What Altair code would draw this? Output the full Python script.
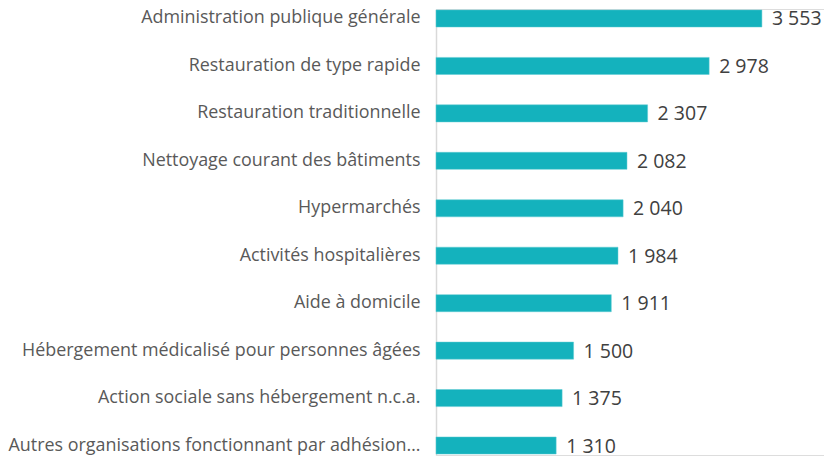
import altair as alt
import pandas as pd

categories = [
    "Administration publique générale",
    "Restauration de type rapide",
    "Restauration traditionnelle",
    "Nettoyage courant des bâtiments",
    "Hypermarchés",
    "Activités hospitalières",
    "Aide à domicile",
    "Hébergement médicalisé pour personnes âgées",
    "Action sociale sans hébergement n.c.a.",
    "Autres organisations fonctionnant par adhésion…",
]
values = [3553, 2978, 2307, 2082, 2040, 1984, 1911, 1500, 1375, 1310]

df = pd.DataFrame({
    "cat": categories,
    "val": values,
    "lbl": [f"{v:,}".replace(",", "\u00a0") for v in values],
})

FONT = "Open Sans"

y = alt.Y(
    "cat:N",
    sort=categories,
    title=None,
    scale=alt.Scale(paddingInner=0.64, paddingOuter=0.02),
    axis=alt.Axis(
        ticks=False,
        domainColor="#D9D9D9",
        domainWidth=1.5,
        labelFont=FONT,
        labelFontSize=17.9,
        labelColor="#595959",
        labelPadding=16,
        labelLimit=500,
    ),
)
x = alt.X("val:Q", axis=None, scale=alt.Scale(domain=[0, 4230], nice=False))

bars = alt.Chart(df).mark_bar(color="#14B2BD", stroke="#5FCAD2", strokeWidth=0.5).encode(x=x, y=y)
text = alt.Chart(df).mark_text(
    align="left", baseline="middle", dx=10, dy=1, font=FONT, fontSize=19.5, color="#404040"
).encode(x=x, y=y, text="lbl:N")

chart = (
    alt.layer(bars, text)
    .properties(width=388, height=446, padding=0)
    .configure_view(stroke="transparent", strokeWidth=0)
    .configure(background="white")
)

chart.save("out.html", embed_options={"renderer": "svg", "actions": False})
